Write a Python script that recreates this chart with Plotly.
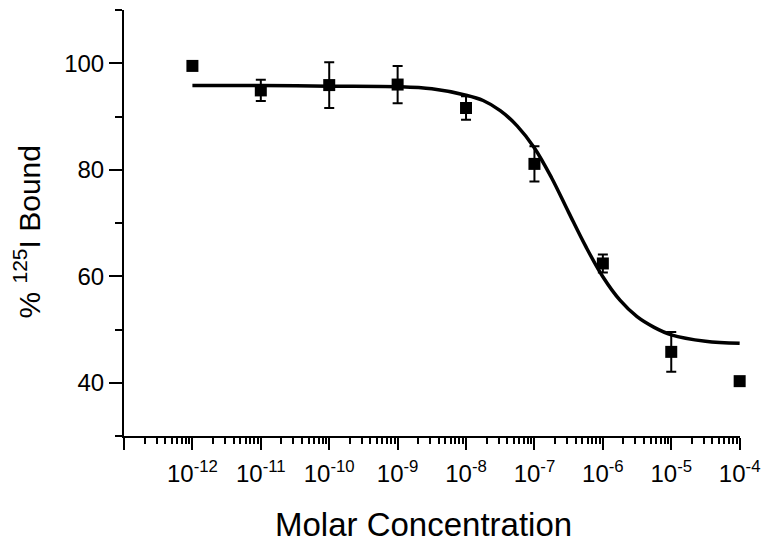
import plotly.graph_objects as go

# ---- data ----
conc_exp = [-12, -11, -10, -9, -8, -7, -6, -5, -4]
bound_pct = [99.5, 94.9, 95.9, 96.0, 91.6, 81.1, 62.4, 45.8, 40.3]
bound_err = [None, 2.0, 4.3, 3.5, 2.2, 3.3, 1.7, 3.75, None]

fit_exp = [-12, -11, -10, -9, -8.5, -8, -7.75, -7.5, -7.25, -7, -6.75, -6.5,
           -6.25, -6, -5.75, -5.5, -5.25, -5, -4.5, -4]
fit_pct = [95.8, 95.8, 95.7, 95.6, 95.2, 94.0, 93.0, 91.1, 88.2, 84.1, 78.5, 72.0,
           65.6, 59.9, 55.5, 52.4, 50.4, 49.0, 47.8, 47.4]

tick_exp = [-13, -12, -11, -10, -9, -8, -7, -6, -5, -4]
tick_text = [""] + ["10<sup>%d</sup>" % e for e in tick_exp[1:]]

conc = [10.0 ** e for e in conc_exp]
fit_conc = [10.0 ** e for e in fit_exp]
tick_vals = [10.0 ** e for e in tick_exp]
minor_vals = [m * 10.0 ** e for e in tick_exp[:-1] for m in range(2, 10)]

FONT = "Liberation Sans, Arial, sans-serif"

# the page body adds an 8px offset; figure is sized so the plot lands where the reference has it
OFF = 8
W, H = 771 - OFF, 546 - OFF
L, R, T = 124 - OFF, 31, 10 - OFF
PW = W - L - R
PH = 426
B = H - T - PH

fig = go.Figure()
fig.add_trace(go.Scatter(
    x=fit_conc, y=fit_pct, mode="lines",
    line=dict(color="black", width=3.5, shape="spline", smoothing=1.0),
    hoverinfo="skip", showlegend=False,
))
fig.add_trace(go.Scatter(
    x=conc, y=bound_pct, mode="markers",
    marker=dict(symbol="square", size=12, color="black"),
    error_y=dict(type="data", array=bound_err, color="black", thickness=2, width=5),
    cliponaxis=False, showlegend=False,
))

fig.update_layout(
    width=W, height=H,
    margin=dict(l=L, r=R, t=T, b=B),
    paper_bgcolor="white", plot_bgcolor="white",
    font=dict(family=FONT, color="black", size=24),
    xaxis=dict(
        type="log", range=[-13, -3.995], showgrid=False, zeroline=False,
        automargin=False,
        showline=True, linecolor="black", linewidth=2,
        tickmode="array", tickvals=tick_vals, ticktext=tick_text,
        ticks="outside", ticklen=12, tickwidth=2, tickcolor="black",
        ticklabelstandoff=3,
        tickfont=dict(size=24, family=FONT),
        minor=dict(tickmode="array", tickvals=minor_vals, ticks="outside",
                   ticklen=6, tickwidth=1.5, tickcolor="black", showgrid=False),
    ),
    yaxis=dict(
        range=[30, 110], showgrid=False, zeroline=False,
        automargin=False,
        showline=True, linecolor="black", linewidth=2,
        tickmode="array", tickvals=[40, 60, 80, 100],
        ticks="outside", ticklen=13, tickwidth=2, tickcolor="black",
        tickfont=dict(size=24, family=FONT),
        minor=dict(tickmode="array", tickvals=[30, 50, 70, 90, 110], ticks="outside",
                   ticklen=7, tickwidth=2, tickcolor="black", showgrid=False),
    ),
    annotations=[
        dict(text="Molar Concentration", xref="paper", yref="paper",
             x=(423 - 124) / PW, y=-(524 - 436) / PH, xanchor="center", yanchor="middle",
             showarrow=False, font=dict(size=33, family=FONT)),
        dict(text="% <sup>125</sup>I Bound", xref="paper", yref="paper",
             x=-(124 - 28) / PW, y=0.5 - 9.5 / PH, xanchor="center", yanchor="middle",
             textangle=-90, showarrow=False, font=dict(size=30, family=FONT)),
    ],
)

fig.write_html("out.html")
